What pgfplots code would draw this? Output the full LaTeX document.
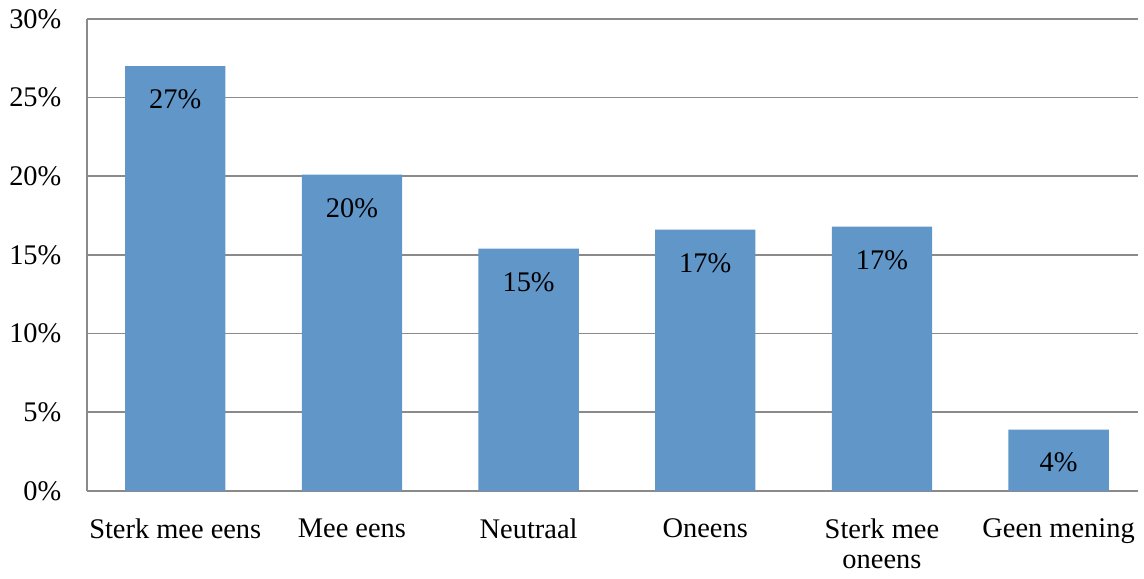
\documentclass[border=0pt]{standalone}
\usepackage{pgfplots}
\pgfplotsset{compat=1.18}
\usepackage{fontspec}
\setmainfont{Liberation Serif}
\definecolor{barblue}{RGB}{97,150,201}
\definecolor{gridgray}{RGB}{138,138,138}

\begin{document}
\fontsize{14}{14.5}\selectfont
\begin{tikzpicture}
\begin{axis}[
    scale only axis,
    width=528.7pt, height=237.5pt,
    ybar, bar width=50.5pt,
    ymin=0, ymax=30, ytick={0,5,...,30},
    xmin=-0.5, xmax=5.447,
    xtick={0,...,5},
    xticklabels={Sterk mee eens, Mee eens, Neutraal, Oneens, {Sterk mee\\oneens}, Geen mening},
    x tick label style={align=center, yshift=-9pt, font=\fontsize{14.3}{15.5}\selectfont},
    yticklabel={\pgfmathprintnumber{\tick}\%},
    /pgf/number format/assume math mode=true,
    y tick label style={xshift=-8pt, font=\fontsize{14.3}{15.5}\selectfont},
    major tick length=0pt,
    axis x line*=bottom, axis y line*=left,
    axis line style={gridgray, line width=0.9pt, -},
    ymajorgrids, grid style={gridgray, line width=0.9pt},
    nodes near coords={\pgfmathprintnumber[fixed,precision=0]{\pgfplotspointmeta}\%},
    nodes near coords align={below},
    every node near coord/.append style={font=\fontsize{14.3}{15.5}\selectfont, black, yshift=-7pt},
]
\addplot[fill=barblue, draw=none] coordinates {(0,27.0) (1,20.1) (2,15.4) (3,16.6) (4,16.8) (5,3.9)};
\end{axis}
\end{tikzpicture}
\end{document}
